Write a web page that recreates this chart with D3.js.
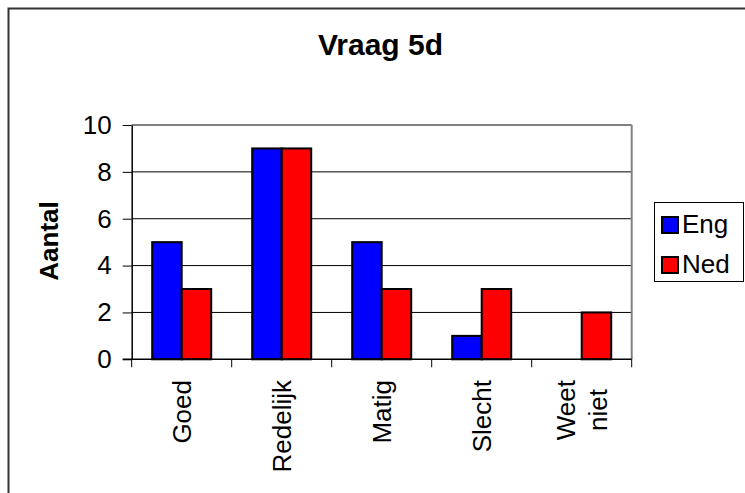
<!DOCTYPE html>
<html>
<head>
<meta charset="utf-8">
<script src="https://cdn.jsdelivr.net/npm/d3@7"></script>
<style>
  body { margin: 0; background: #fff; }
  svg { display: block; font-family: "Liberation Sans", Arial, sans-serif; }
</style>
</head>
<body>
<div id="area"></div>
<script>
// chart data
var categories = ["Goed", "Redelijk", "Matig", "Slecht", "Weet niet"];
var series_names = ["Eng", "Ned"];
var eng_values = [5, 9, 5, 1, 0];
var ned_values = [3, 9, 3, 3, 2];
var y_ticks = [0, 2, 4, 6, 8, 10];
var colors = { Eng: "#0000ff", Ned: "#ff0000" };

var width = 745, height = 493;
var plot = { left: 131.7, right: 631.7, top: 125, bottom: 359.3 };

var svg = d3.select("#area").append("svg")
	.attr("width", width).attr("height", height);

svg.append("rect").attr("width", width).attr("height", height).attr("fill", "#fff");

// outer frame, runs off the right and bottom edge
svg.append("rect")
	.attr("x", 8.5).attr("y", 8.5)
	.attr("width", 900).attr("height", 900)
	.attr("fill", "none").attr("stroke", "#333").attr("stroke-width", 2);

var x = d3.scaleBand().domain(categories).range([plot.left, plot.right]).padding(0);
var x1 = d3.scaleBand().domain(series_names).range([0, 59]);
var y = d3.scaleLinear().domain([0, 10]).range([plot.bottom, plot.top]);

// gridlines
svg.append("g").selectAll("line")
	.data(y_ticks.filter(function(d){ return d > 0; }))
	.join("line")
	.attr("x1", plot.left).attr("x2", plot.right)
	.attr("y1", function(d){ return y(d); }).attr("y2", function(d){ return y(d); })
	.attr("stroke", function(d){ return d == 10 ? "#808080" : "#000"; })
	.attr("stroke-width", function(d){ return d == 10 ? 2 : 1; });

// right border of plot area
svg.append("line")
	.attr("x1", plot.right).attr("x2", plot.right)
	.attr("y1", plot.top).attr("y2", plot.bottom)
	.attr("stroke", "#808080").attr("stroke-width", 2);

// bars
var rows = categories.map(function(c, i){
	return { cat: c, values: [
		{ key: "Eng", value: eng_values[i] },
		{ key: "Ned", value: ned_values[i] }
	]};
});
var offset = (x.bandwidth() - 59) / 2;

svg.append("g").selectAll("g")
	.data(rows)
	.join("g")
	.attr("transform", function(d){ return "translate(" + (x(d.cat) + offset) + ",0)"; })
	.selectAll("rect")
	.data(function(d){ return d.values.filter(function(v){ return v.value > 0; }); })
	.join("rect")
	.attr("x", function(d){ return x1(d.key); })
	.attr("width", x1.bandwidth())
	.attr("y", function(d){ return y(d.value); })
	.attr("height", function(d){ return y(0) - y(d.value); })
	.attr("fill", function(d){ return colors[d.key]; })
	.attr("stroke", "#000").attr("stroke-width", 2);

// y axis
var yAxis = svg.append("g")
	.attr("transform", "translate(" + plot.left + ",0)")
	.call(d3.axisLeft(y).tickValues(y_ticks).tickSize(9).tickPadding(11).tickSizeOuter(0));
yAxis.select(".domain").attr("stroke", "#000").attr("stroke-width", 1.5);
yAxis.selectAll(".tick line").attr("stroke", "#000");
yAxis.selectAll(".tick text")
	.attr("font-family", "'Liberation Sans', Arial, sans-serif")
	.attr("font-size", 26).attr("fill", "#000");

// x axis line and ticks at category boundaries
svg.append("line")
	.attr("x1", plot.left - 9).attr("x2", plot.right)
	.attr("y1", plot.bottom).attr("y2", plot.bottom)
	.attr("stroke", "#000").attr("stroke-width", 1.5);

var bounds = categories.map(function(c){ return x(c); }).concat([plot.right]);
svg.append("g").selectAll("line")
	.data(bounds)
	.join("line")
	.attr("x1", function(d){ return d; }).attr("x2", function(d){ return d; })
	.attr("y1", plot.bottom).attr("y2", plot.bottom + 8)
	.attr("stroke", "#000").attr("stroke-width", 1);

// category labels, rotated, top aligned
var labelTop = 380, lineH = 32;
categories.forEach(function(c){
	var lines = c.split(" ");
	var cx = x(c) + x.bandwidth() / 2;
	var g = svg.append("g").attr("transform", "translate(" + cx + "," + labelTop + ") rotate(-90)");
	var texts = lines.map(function(t, i){
		return g.append("text")
			.attr("font-size", 26).attr("fill", "#000")
			.attr("y", (i - (lines.length - 1) / 2) * lineH)
			.attr("dy", "0.35em")
			.text(t);
	});
	if(lines.length == 1){
		texts[0].attr("text-anchor", "end");
	} else {
		var maxW = d3.max(texts, function(t){ return t.node().getComputedTextLength(); });
		texts.forEach(function(t){
			t.attr("text-anchor", "middle").attr("x", -maxW / 2);
		});
	}
});

// title
svg.append("text")
	.attr("x", 380.5).attr("y", 55)
	.attr("text-anchor", "middle")
	.attr("font-size", 30).attr("font-weight", "bold")
	.text("Vraag 5d");

// y axis title
svg.append("text")
	.attr("transform", "translate(58,241) rotate(-90)")
	.attr("text-anchor", "middle")
	.attr("font-size", 26).attr("font-weight", "bold")
	.text("Aantal");

// legend
var legend = svg.append("g");
legend.append("rect")
	.attr("x", 654.5).attr("y", 202.5).attr("width", 89).attr("height", 79)
	.attr("fill", "#fff").attr("stroke", "#000").attr("stroke-width", 1);

var items = legend.selectAll("g.item")
	.data(series_names)
	.join("g").attr("class", "item")
	.attr("transform", function(d, i){ return "translate(662," + (217 + i * 40) + ")"; });
items.append("rect")
	.attr("width", 16).attr("height", 16)
	.attr("fill", function(d){ return colors[d]; })
	.attr("stroke", "#000").attr("stroke-width", 2);
items.append("text")
	.attr("x", 20).attr("y", 16)
	.attr("font-size", 26)
	.text(function(d){ return d; });
</script>
</body>
</html>
